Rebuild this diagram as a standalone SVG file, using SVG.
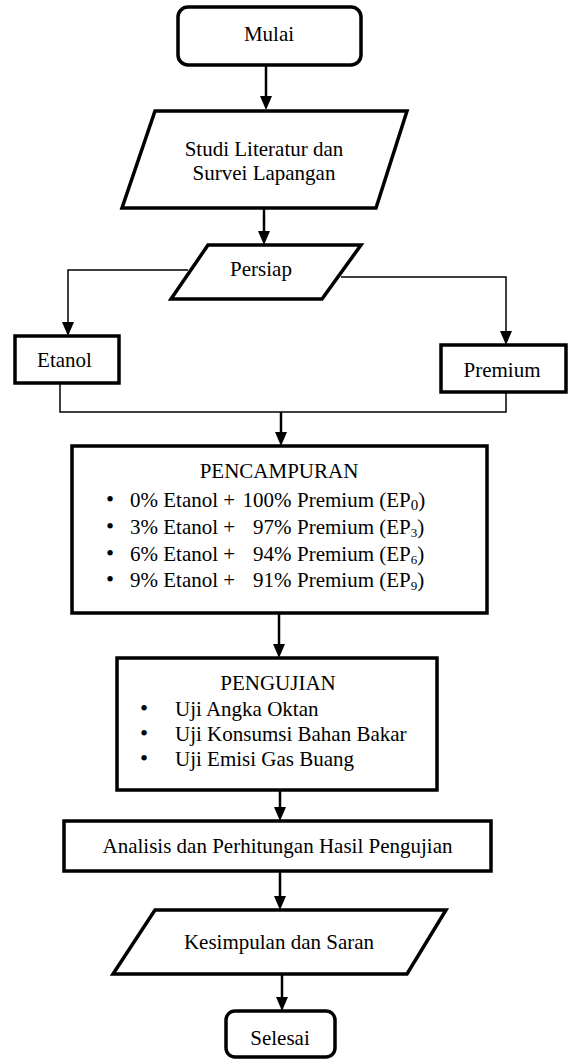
<svg xmlns="http://www.w3.org/2000/svg" width="569" height="1059" viewBox="0 0 569 1059">
<defs>
<style>
text{font-family:"Liberation Serif","Times New Roman",serif;font-size:21px;fill:#000}
.c{text-anchor:middle}
.e{text-anchor:end}
.b{font-size:23px}
.box{fill:#fff;stroke:#000;stroke-width:3.5;stroke-linejoin:miter}
.conn{fill:none;stroke:#000;stroke-width:2.5}
.thin{fill:none;stroke:#000;stroke-width:1.5}
.sub{font-size:13px}
.sub0{font-size:15px}
</style>
<marker id="ah" viewBox="0 0 14 12" refX="2" refY="6" markerWidth="14" markerHeight="12" markerUnits="userSpaceOnUse" orient="auto">
<path d="M0,0 L14,6 L0,12 z" fill="#000"/>
</marker>
</defs>
<rect width="569" height="1059" fill="#fff"/>

<g id="connectors">
<line class="conn" x1="266" y1="66" x2="266" y2="98" marker-end="url(#ah)"/>
<line class="conn" x1="264" y1="209" x2="264" y2="233" marker-end="url(#ah)"/>
<polyline class="thin" points="188,270 68,270 68,324" marker-end="url(#ah)"/>
<polyline class="thin" points="341,277 506,277 506,333" marker-end="url(#ah)"/>
<polyline class="thin" points="60,384 60,412 506,412 506,392"/>
<line class="conn" x1="281" y1="412" x2="281" y2="434" marker-end="url(#ah)"/>
<line class="conn" x1="279" y1="614" x2="279" y2="646" marker-end="url(#ah)"/>
<line class="conn" x1="280" y1="791" x2="280" y2="809" marker-end="url(#ah)"/>
<line class="conn" x1="280" y1="872" x2="280" y2="898" marker-end="url(#ah)"/>
<line class="conn" x1="282" y1="975" x2="282" y2="999" marker-end="url(#ah)"/>
</g>

<g id="mulai">
<rect class="box" x="178" y="7" width="183" height="58" rx="10"/>
<text class="c" x="269" y="41">Mulai</text>
</g>

<g id="studi">
<polygon class="box" points="155,111 407,111 376,208 122,208"/>
<text class="c" x="264" y="155.5">Studi Literatur dan</text>
<text class="c" x="264" y="179.5">Survei Lapangan</text>
</g>

<g id="persiap">
<polygon class="box" points="208,245 361,245 322,299 171,299"/>
<text class="c" x="261" y="276">Persiap</text>
</g>

<g id="etanol">
<rect class="box" x="15" y="336" width="104" height="47"/>
<text class="c" x="64.5" y="367">Etanol</text>
</g>

<g id="premium">
<rect class="box" x="441" y="345" width="125" height="47"/>
<text class="c" x="502" y="377">Premium</text>
</g>

<g id="pencampuran">
<rect class="box" x="72" y="446" width="415" height="167"/>
<text class="c" x="279" y="478">PENCAMPURAN</text>
<text y="507"><tspan class="b" x="106">•</tspan><tspan x="130">0% Etanol +</tspan></text>
<text class="e" x="291.5" y="507">100%</text>
<text x="297" y="507">Premium (EP<tspan class="sub0" dy="3">0</tspan><tspan dy="-3">)</tspan></text>
<text y="534"><tspan class="b" x="106">•</tspan><tspan x="130">3% Etanol +</tspan></text>
<text class="e" x="291.5" y="534">97%</text>
<text x="297" y="534">Premium (EP<tspan class="sub" dy="3">3</tspan><tspan dy="-3">)</tspan></text>
<text y="561"><tspan class="b" x="106">•</tspan><tspan x="130">6% Etanol +</tspan></text>
<text class="e" x="291.5" y="561">94%</text>
<text x="297" y="561">Premium (EP<tspan class="sub" dy="3">6</tspan><tspan dy="-3">)</tspan></text>
<text y="587"><tspan class="b" x="106">•</tspan><tspan x="130">9% Etanol +</tspan></text>
<text class="e" x="291.5" y="587">91%</text>
<text x="297" y="587">Premium (EP<tspan class="sub" dy="3">9</tspan><tspan dy="-3">)</tspan></text>
</g>

<g id="pengujian">
<rect class="box" x="117" y="658" width="320" height="132"/>
<text class="c" x="278" y="690">PENGUJIAN</text>
<text y="716"><tspan class="b" x="140">•</tspan><tspan x="175">Uji Angka Oktan</tspan></text>
<text y="741"><tspan class="b" x="140">•</tspan><tspan x="175">Uji Konsumsi Bahan Bakar</tspan></text>
<text y="766"><tspan class="b" x="140">•</tspan><tspan x="175">Uji Emisi Gas Buang</tspan></text>
</g>

<g id="analisis">
<rect class="box" x="64" y="821" width="427" height="50"/>
<text class="c" x="277.5" y="853">Analisis dan Perhitungan Hasil Pengujian</text>
</g>

<g id="kesimpulan">
<polygon class="box" points="155,910 446,910 407,974 113,974"/>
<text class="c" x="279" y="949">Kesimpulan dan Saran</text>
</g>

<g id="selesai">
<rect class="box" x="226" y="1011" width="109" height="46" rx="9"/>
<text class="c" x="280" y="1045">Selesai</text>
</g>
</svg>
